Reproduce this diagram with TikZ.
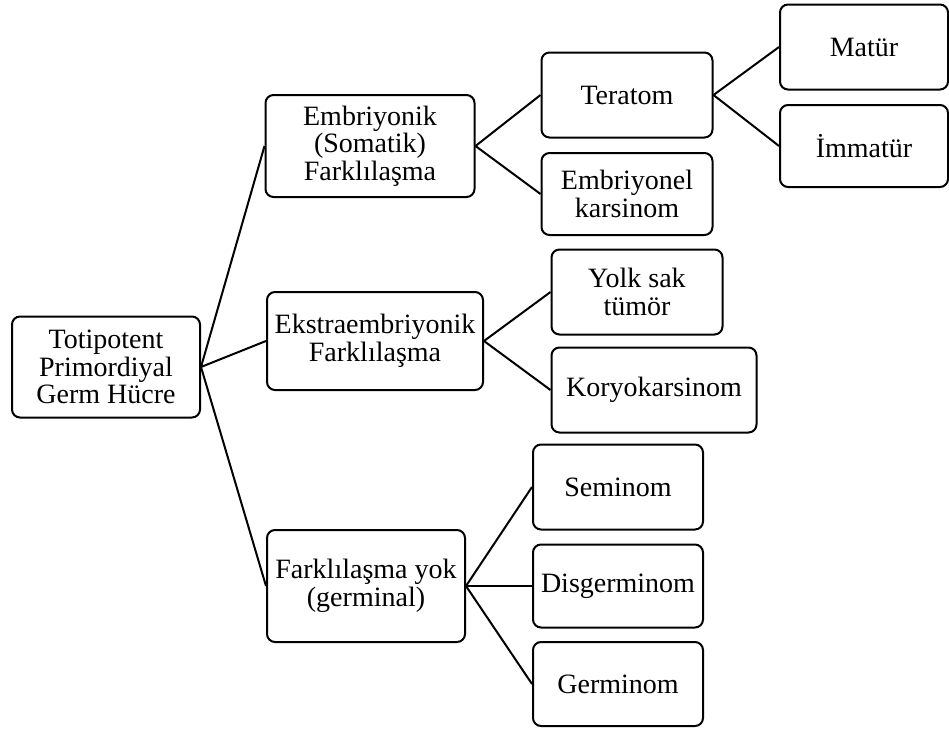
\documentclass[tikz,border=0pt]{standalone}
\usepackage{fontspec}
\setmainfont{Liberation Serif}
\newfontfamily\kutufont{Liberation Serif}

\begin{document}
\begin{tikzpicture}[x=1pt,y=-1pt,
  kutu/.style={draw, line width=2pt, rounded corners=8pt, align=center, inner sep=0pt, font=\kutufont\fontsize{28}{27.5}\selectfont},
  bag/.style={line width=2pt}]
\useasboundingbox (0,0) rectangle (949,728);

% root
\node[kutu, minimum width=188pt, minimum height=101pt] (kok) at (106,367) {Totipotent\\Primordiyal\\Germ Hücre};

% second level
\node[kutu, minimum width=209pt, minimum height=102pt] (emb) at (370,146) {Embriyonik\\(Somatik)\\Farklılaşma};
\node[kutu, minimum width=216pt, minimum height=98pt] (eks) at (375,341) {Ekstraembriyonik\\Farklılaşma};
\node[kutu, minimum width=198pt, minimum height=112pt] (yok) at (366,586) {Farklılaşma yok\\(germinal)};

% third level
\node[kutu, minimum width=171pt, minimum height=85pt] (ter) at (627,95) {Teratom};
\node[kutu, minimum width=171pt, minimum height=82pt] (ek) at (627,194) {Embriyonel\\karsinom};
\node[kutu, minimum width=171pt, minimum height=85pt] (yolk) at (637,292) {Yolk sak\\tümör};
\node[kutu, minimum width=205pt, minimum height=85pt] (kor) at (654,390) {Koryokarsinom};
\node[kutu, minimum width=170pt, minimum height=85pt] (sem) at (618,487) {Seminom};
\node[kutu, minimum width=170pt, minimum height=83pt] (dis) at (618,586) {Disgerminom};
\node[kutu, minimum width=170pt, minimum height=84pt] (ger) at (618,684) {Germinom};

% fourth level
\node[kutu, minimum width=168pt, minimum height=85pt] (mat) at (864,47) {Matür};
\node[kutu, minimum width=168pt, minimum height=82pt] (imm) at (864,146) {İmmatür};

% connectors
\draw[bag] (kok.east) -- (emb.west);
\draw[bag] (kok.east) -- (eks.west);
\draw[bag] (kok.east) -- (yok.west);
\draw[bag] (emb.east) -- (ter.west);
\draw[bag] (emb.east) -- (ek.west);
\draw[bag] (ter.east) -- (mat.west);
\draw[bag] (ter.east) -- (imm.west);
\draw[bag] (eks.east) -- (yolk.west);
\draw[bag] (eks.east) -- (kor.west);
\draw[bag] (yok.east) -- (sem.west);
\draw[bag] (yok.east) -- (dis.west);
\draw[bag] (yok.east) -- (ger.west);
\end{tikzpicture}
\end{document}
